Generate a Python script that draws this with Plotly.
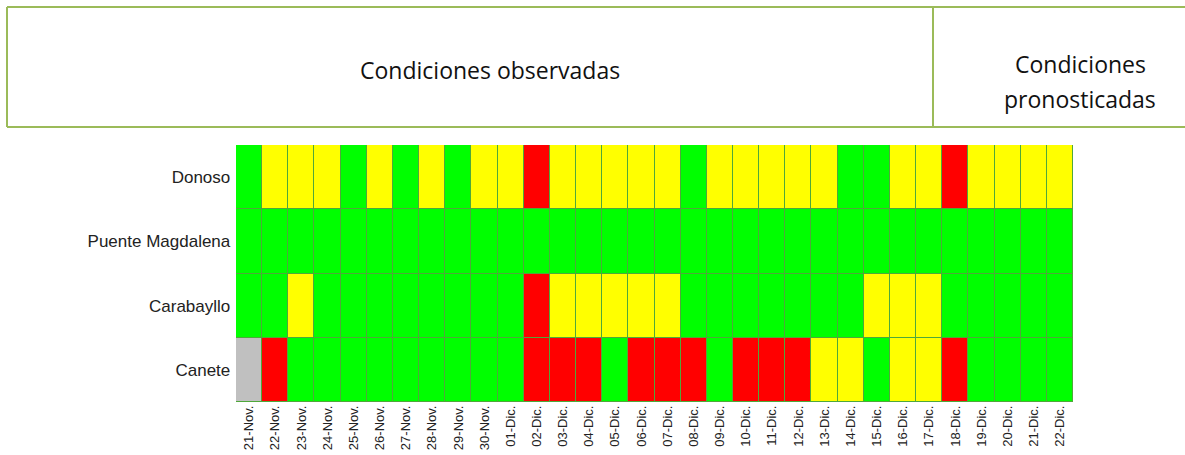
import plotly.graph_objects as go

dates = ["21-Nov.", "22-Nov.", "23-Nov.", "24-Nov.", "25-Nov.", "26-Nov.", "27-Nov.", "28-Nov.",
         "29-Nov.", "30-Nov.", "01-Dic.", "02-Dic.", "03-Dic.", "04-Dic.", "05-Dic.", "06-Dic.",
         "07-Dic.", "08-Dic.", "09-Dic.", "10-Dic.", "11-Dic.", "12-Dic.", "13-Dic.", "14-Dic.",
         "15-Dic.", "16-Dic.", "17-Dic.", "18-Dic.", "19-Dic.", "20-Dic.", "21-Dic.", "22-Dic."]

stations = ["Donoso", "Puente Magdalena", "Carabayllo", "Canete"]

# G = verde, Y = amarillo, R = rojo, S = sin dato
donoso = ["G", "Y", "Y", "Y", "G", "Y", "G", "Y", "G", "Y", "Y", "R", "Y", "Y", "Y", "Y",
          "Y", "G", "Y", "Y", "Y", "Y", "Y", "G", "G", "Y", "Y", "R", "Y", "Y", "Y", "Y"]
puente_magdalena = ["G"] * 32
carabayllo = ["G", "G", "Y", "G", "G", "G", "G", "G", "G", "G", "G", "R", "Y", "Y", "Y", "Y",
              "Y", "G", "G", "G", "G", "G", "G", "G", "Y", "Y", "Y", "G", "G", "G", "G", "G"]
canete = ["S", "R", "G", "G", "G", "G", "G", "G", "G", "G", "G", "R", "R", "R", "G", "R",
          "R", "R", "G", "R", "R", "R", "Y", "Y", "G", "Y", "Y", "R", "G", "G", "G", "G"]

series = [donoso, puente_magdalena, carabayllo, canete]

code = {"S": 0, "G": 1, "Y": 2, "R": 3}
z = [[code[v] for v in row] for row in series]

colorscale = [
    [0.0, "#C0C0C0"], [0.25, "#C0C0C0"],
    [0.25, "#00FF00"], [0.5, "#00FF00"],
    [0.5, "#FFFF00"], [0.75, "#FFFF00"],
    [0.75, "#FF0000"], [1.0, "#FF0000"],
]

fig = go.Figure(go.Heatmap(
    z=z, x=dates, y=stations,
    colorscale=colorscale, zmin=-0.5, zmax=3.5,
    showscale=False, xgap=1, ygap=1, hoverinfo="x+y",
))

W, H = 1185, 455
L, R, T, B = 236, 112, 145, 53
pw = W - L - R
ph = H - T - B

def px(X):
    return (X - L) / pw

def py(Y):
    return (H - B - Y) / ph

border = "#9BBB59"
shapes = [
    dict(type="line", xref="paper", yref="paper", x0=px(7), x1=px(1200), y0=py(7), y1=py(7),
         line=dict(color=border, width=2)),
    dict(type="line", xref="paper", yref="paper", x0=px(7), x1=px(1200), y0=py(127), y1=py(127),
         line=dict(color=border, width=2)),
    dict(type="line", xref="paper", yref="paper", x0=px(7), x1=px(7), y0=py(7), y1=py(127),
         line=dict(color=border, width=2)),
    dict(type="line", xref="paper", yref="paper", x0=px(933), x1=px(933), y0=py(7), y1=py(127),
         line=dict(color=border, width=2)),
]

hdr_font = dict(family="Open Sans, Noto Sans, sans-serif", size=23, color="#111111")
annotations = [
    dict(xref="paper", yref="paper", x=px(490), y=py(70), text="Condiciones observadas",
         showarrow=False, font=hdr_font, xanchor="center", yanchor="middle"),
    dict(xref="paper", yref="paper", x=px(1080), y=py(64), text="Condiciones",
         showarrow=False, font=hdr_font, xanchor="center", yanchor="middle"),
    dict(xref="paper", yref="paper", x=px(1080), y=py(99), text="pronosticadas",
         showarrow=False, font=hdr_font, xanchor="center", yanchor="middle"),
]

fig.update_layout(
    width=W, height=H,
    margin=dict(l=L, r=R, t=T, b=B, pad=0, autoexpand=False),
    paper_bgcolor="white", plot_bgcolor="#4FA83A",
    shapes=shapes, annotations=annotations,
    showlegend=False,
)
fig.update_xaxes(tickangle=-90, tickfont=dict(family="Arial, Liberation Sans", size=13, color="#222222"),
                 showgrid=False, zeroline=False, ticks="", ticklen=0, type="category", automargin=False)
fig.update_yaxes(autorange="reversed", tickfont=dict(family="Arial, Liberation Sans", size=17, color="#222222"),
                 showgrid=False, zeroline=False, ticks="", type="category", ticksuffix=" ", automargin=False)

fig.write_html("out.html", config={"displayModeBar": False},
               post_script="document.body.style.margin='0';document.body.style.overflow='hidden';")
